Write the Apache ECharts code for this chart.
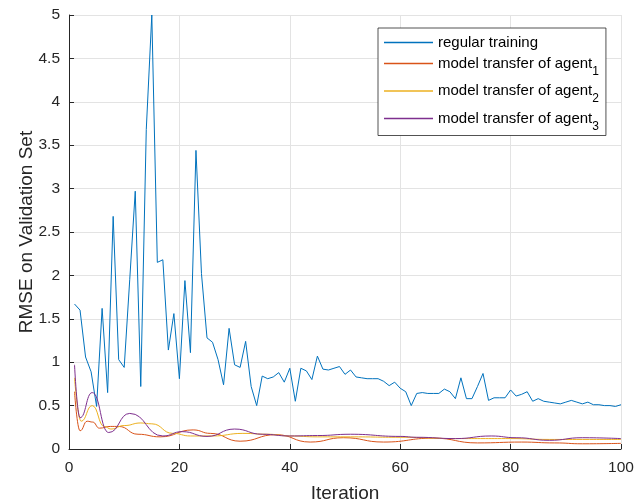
<!DOCTYPE html>
<html>
<head>
<meta charset="utf-8">
<script src="https://cdn.jsdelivr.net/npm/echarts@6/dist/echarts.min.js"></script>
<style>
html,body{margin:0;padding:0;background:#fff;}
#chart{width:644px;height:503px;}
</style>
</head>
<body>
<div id="chart"></div>
<script>
// Iterations for the regular training run
const iterations = [1,2,3,4,5,6,7,8,9,10,11,12,13,14,15,16,17,18,19,20,
  21,22,23,24,25,26,27,28,29,30,31,32,33,34,35,36,37,38,39,40,
  41,42,43,44,45,46,47,48,49,50,51,52,53,54,55,56,57,58,59,60,
  61,62,63,64,65,66,67,68,69,70,71,72,73,74,75,76,77,78,79,80,
  81,82,83,84,85,86,87,88,89,90,91,92,93,94,95,96,97,98,99,100];
const regularTraining = [1.67,1.60,1.06,0.89,0.49,1.62,0.65,2.68,1.03,0.94,
  1.95,2.97,0.72,3.68,5.00,2.15,2.18,1.14,1.56,0.81,
  1.94,1.11,3.44,2.02,1.28,1.23,1.03,0.74,1.39,0.97,
  0.94,1.24,0.72,0.50,0.84,0.81,0.83,0.88,0.77,0.93,
  0.55,0.93,0.90,0.80,1.07,0.92,0.91,0.93,0.95,0.86,
  0.91,0.83,0.82,0.81,0.81,0.81,0.78,0.73,0.77,0.70,
  0.66,0.50,0.64,0.65,0.64,0.64,0.64,0.69,0.66,0.58,
  0.82,0.58,0.58,0.72,0.87,0.56,0.59,0.59,0.59,0.68,
  0.61,0.63,0.66,0.55,0.58,0.55,0.54,0.53,0.52,0.54,
  0.56,0.54,0.52,0.54,0.51,0.51,0.50,0.50,0.49,0.51];

// Model transfer curves (read at their turning points)
const agent1X = [1,2,3.3,4.3,5.5,7.5,9,12.5,16.5,22.5,25.6,31,37.5,43.7,49.7,57,66,74,82,88,93,100];
const agent1Y = [0.66,0.21,0.32,0.31,0.24,0.26,0.26,0.17,0.14,0.22,0.18,0.09,0.165,0.08,0.13,0.08,0.125,0.07,0.08,0.07,0.06,0.065];
const agent2X = [1,2.2,4.2,6.4,7.6,10,13,15,18.8,22,26,31.5,36,40,45,51,60,70,80,87,93,100];
const agent2Y = [0.82,0.32,0.50,0.26,0.23,0.27,0.30,0.29,0.18,0.15,0.15,0.18,0.17,0.15,0.14,0.14,0.135,0.12,0.12,0.11,0.11,0.11];
const agent3X = [1,2,4.2,7.2,11,17,20.5,25,30,35,40,45,51,60,63,70,76.5,81,87,93,100];
const agent3Y = [0.97,0.36,0.65,0.19,0.41,0.15,0.20,0.145,0.23,0.17,0.15,0.155,0.17,0.145,0.135,0.12,0.15,0.13,0.10,0.13,0.12];

const xTicks = [0,20,40,60,80,100];
const yTicks = [0,0.5,1,1.5,2,2.5,3,3.5,4,4.5,5];

const seriesNames = ['regular training','model transfer of agent1','model transfer of agent2','model transfer of agent3'];
const subscripts = {'model transfer of agent1':'1','model transfer of agent2':'2','model transfer of agent3':'3'};
const colors = ['#0072BD','#D95319','#EDB120','#7E2F8E'];

function pairs(xs, ys){ return xs.map((x,i)=>[x, ys[i]]); }

const chart = echarts.init(document.getElementById('chart'), null, {renderer:'canvas'});
const axisColor = '#262626';
const font = '"Liberation Sans", Arial, Helvetica, sans-serif';

chart.setOption({
  animation: false,
  backgroundColor: '#fff',
  color: colors,
  textStyle: {fontFamily: font},
  grid: {left: 69, right: 23, top: 15, bottom: 54, containLabel: false, outerBoundsMode: 'none'},
  xAxis: {
    type: 'value', min: xTicks[0], max: xTicks[xTicks.length-1], interval: 20,
    name: 'Iteration', nameLocation: 'middle', nameGap: 35, nameMoveOverlap: false,
    nameTextStyle: {fontSize: 19, color: axisColor, fontFamily: font},
    axisLine: {show: true, onZero: false, lineStyle: {color: axisColor, width: 1}},
    axisTick: {show: true, inside: true, length: 5, lineStyle: {color: axisColor}},
    axisLabel: {fontSize: 15.5, color: axisColor, margin: 11, fontFamily: font},
    splitLine: {show: true, lineStyle: {color: '#e3e3e3', width: 1}}
  },
  yAxis: {
    type: 'value', min: yTicks[0], max: yTicks[yTicks.length-1], interval: 0.5,
    name: 'RMSE on Validation Set', nameLocation: 'middle', nameGap: 33, nameMoveOverlap: false,
    nameTextStyle: {fontSize: 19, color: axisColor, fontFamily: font},
    axisLine: {show: true, onZero: false, lineStyle: {color: axisColor, width: 1}},
    axisTick: {show: true, inside: true, length: 5, lineStyle: {color: axisColor}},
    axisLabel: {fontSize: 15.5, color: axisColor, margin: 9, fontFamily: font},
    splitLine: {show: true, lineStyle: {color: '#e3e3e3', width: 1}}
  },
  legend: {
    orient: 'vertical', left: 378, top: 28,
    padding: [7, 7, 3, 6], itemGap: 6,
    itemWidth: 49, itemHeight: 1.5, icon: 'rect',
    backgroundColor: '#fff', borderColor: '#262626', borderWidth: 0.8,
    data: seriesNames,
    formatter: function(name){
      if (subscripts[name]) return '{t|model transfer of agent}{s|' + subscripts[name] + '}';
      return '{r|' + name + '}';
    },
    textStyle: {
      fontSize: 15, color: '#000', fontFamily: font,
      rich: {
        r: {fontSize: 15, lineHeight: 18, color: '#000', fontFamily: font},
        t: {fontSize: 15, lineHeight: 28, color: '#000', fontFamily: font},
        s: {fontSize: 12, lineHeight: 12, verticalAlign: 'bottom', color: '#000', fontFamily: font}
      }
    }
  },
  series: [
    {name: seriesNames[0], type: 'line', symbol: 'none', data: pairs(iterations, regularTraining),
     lineStyle: {width: 1, color: colors[0]}, z: 2},
    {name: seriesNames[1], type: 'line', symbol: 'none', smooth: 0.5, smoothMonotone: 'x', data: pairs(agent1X, agent1Y),
     lineStyle: {width: 1, color: colors[1]}, z: 3},
    {name: seriesNames[2], type: 'line', symbol: 'none', smooth: 0.5, smoothMonotone: 'x', data: pairs(agent2X, agent2Y),
     lineStyle: {width: 1, color: colors[2]}, z: 4},
    {name: seriesNames[3], type: 'line', symbol: 'none', smooth: 0.5, smoothMonotone: 'x', data: pairs(agent3X, agent3Y),
     lineStyle: {width: 1, color: colors[3]}, z: 5}
  ]
});
</script>
</body>
</html>
